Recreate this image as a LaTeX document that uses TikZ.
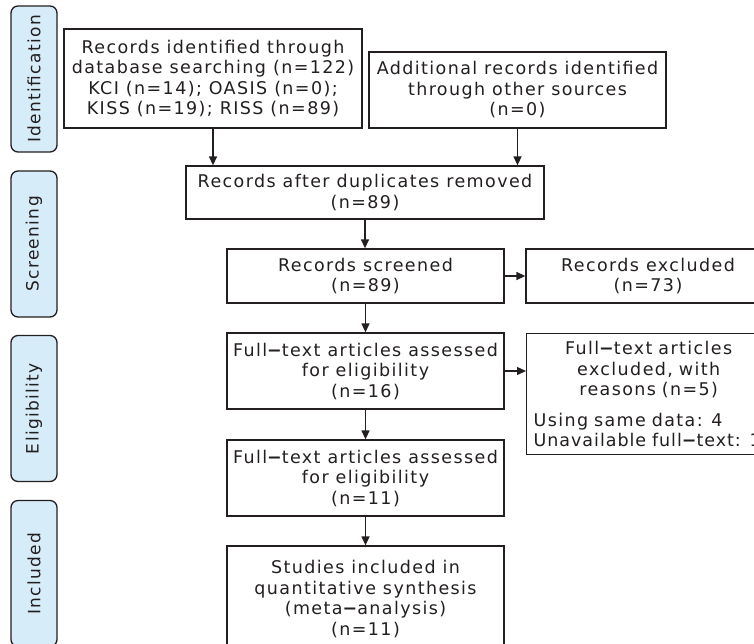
\documentclass[tikz,border=0pt]{standalone}
\usepackage{fontspec}
\setmainfont{DejaVu Sans}[LetterSpace=8]
\usetikzlibrary{arrows.meta}
\definecolor{lab}{RGB}{214,236,249}
\definecolor{ink}{RGB}{35,31,32}
\newcommand{\dsh}{{\bfseries −}}
\begin{document}
\begin{tikzpicture}[x=1pt,y=-1pt,
  box/.style={draw=ink, line width=1.3pt, rectangle, inner sep=0pt, align=center,
    font=\fontsize{17.5}{20.5}\selectfont, text=ink},
  side/.style={draw=ink, fill=lab, rounded corners=7pt, line width=1.3pt,
    minimum width=146pt, minimum height=46pt, rotate=90, inner sep=0pt,
    font=\fontsize{17}{20}\selectfont, text=ink},
  arr/.style={-{Triangle[length=9pt,width=8pt]}, line width=1.3pt, draw=ink}]
\useasboundingbox (0,0) rectangle (754,643);
% side labels
\node[side] (s1) at (34,79) {Identification};
\node[side] (s2) at (34,244) {Screening};
\node[side] (s3) at (34,408.5) {Eligibility};
\node[side] (s4) at (34,573.5) {Included};
% boxes
\node[box, minimum width=298pt, minimum height=99pt] (b1) at (213,78.5)
  {Records identified through\\database searching (n=122)\\KCI (n=14); OASIS (n=0);\\KISS (n=19); RISS (n=89)};
\node[box, minimum width=297pt, minimum height=76pt] (b2) at (517.5,90)
  {Additional records identified\\through other sources\\(n=0)};
\node[box, minimum width=358pt, minimum height=53pt] (b3) at (365,192.5)
  {Records after duplicates removed\\(n=89)};
\node[box, minimum width=277pt, minimum height=54pt] (b4) at (365.5,276)
  {Records screened\\(n=89)};
\node[box, minimum width=244pt, minimum height=54pt] (b5) at (648,276)
  {Records excluded\\(n=73)};
\node[box, minimum width=277pt, minimum height=76pt] (b6) at (365.5,371)
  {Full\dsh text articles assessed\\for eligibility\\(n=16)};
\node[draw=ink, line width=1.3pt, rectangle, anchor=north west, minimum width=244pt,
  minimum height=121pt, inner xsep=7pt, inner ysep=0pt, text width=230pt,
  font=\fontsize{17.5}{20.5}\selectfont, text=ink] (b7) at (526,333)
  {{\centering Full\dsh text articles\\excluded, with\\reasons (n=5)\par}\vspace{10pt}%
   {\raggedright Using same data: 4\\\makebox[0pt][l]{\addfontfeature{LetterSpace=5.5}Unavailable full\dsh text: 1}\par}};
\node[box, minimum width=277pt, minimum height=76pt] (b8) at (365.5,478)
  {Full\dsh text articles assessed\\for eligibility\\(n=11)};
\node[box, minimum width=277pt, minimum height=106pt] (b9) at (365.5,599)
  {Studies included in\\quantitative synthesis\\(meta\dsh analysis)\\(n=11)};
% arrows
\draw[arr] (b1.south) -- (b1.south |- b3.north);
\draw[arr] (b2.south) -- (b2.south |- b3.north);
\draw[arr] (b3.south) -- (b3.south |- b4.north);
\draw[arr] (b4.east) -- (b4.east -| b5.west);
\draw[arr] (b4.south) -- (b6.north);
\draw[arr] (b6.east) -- (b6.east -| b7.west);
\draw[arr] (b6.south) -- (b8.north);
\draw[arr] (b8.south) -- (b9.north);
\end{tikzpicture}
\end{document}
